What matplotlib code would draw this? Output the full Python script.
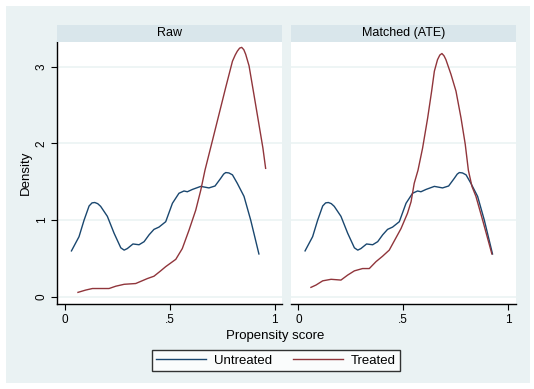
import matplotlib
matplotlib.use("Agg")
import matplotlib.pyplot as plt

plt.rcParams["font.family"] = ["Liberation Sans", "DejaVu Sans"]

# density curves (propensity score, density)
untreated_x = [0.032, 0.068, 0.092, 0.116, 0.130, 0.143, 0.157, 0.171, 0.203, 0.235,
               0.267, 0.283, 0.298, 0.325, 0.354, 0.378, 0.402, 0.425, 0.449, 0.481,
               0.513, 0.544, 0.568, 0.584, 0.608, 0.648, 0.687, 0.716, 0.743, 0.757,
               0.767, 0.782, 0.799, 0.822, 0.854, 0.886, 0.925]
untreated_y = [0.60, 0.785, 1.00, 1.185, 1.225, 1.23, 1.215, 1.18, 1.05, 0.83,
               0.64, 0.61, 0.63, 0.69, 0.68, 0.72, 0.81, 0.88, 0.91, 0.98,
               1.22, 1.35, 1.38, 1.37, 1.40, 1.44, 1.42, 1.445, 1.545, 1.60,
               1.62, 1.615, 1.59, 1.48, 1.31, 1.00, 0.56]

treated_raw_x = [0.063, 0.100, 0.132, 0.211, 0.243, 0.283, 0.338, 0.394, 0.425, 0.457,
                 0.481, 0.529, 0.560, 0.592, 0.624, 0.648, 0.668, 0.703, 0.735, 0.767,
                 0.799, 0.812, 0.822, 0.833, 0.843, 0.853, 0.862, 0.878, 0.901, 0.925,
                 0.944, 0.957]
treated_raw_y = [0.06, 0.09, 0.11, 0.11, 0.14, 0.165, 0.175, 0.24, 0.27, 0.34,
                 0.395, 0.49, 0.63, 0.87, 1.13, 1.39, 1.65, 2.03, 2.38, 2.73,
                 3.07, 3.15, 3.20, 3.24, 3.25, 3.22, 3.16, 3.01, 2.64, 2.25,
                 1.94, 1.675]

treated_ate_x = [0.060, 0.084, 0.116, 0.156, 0.203, 0.235, 0.267, 0.306, 0.338, 0.370,
                 0.401, 0.433, 0.457, 0.489, 0.520, 0.537, 0.552, 0.570, 0.592, 0.616,
                 0.635, 0.648, 0.663, 0.674, 0.684, 0.694, 0.703, 0.727, 0.751, 0.775,
                 0.795, 0.810, 0.827, 0.846, 0.878, 0.922]
treated_ate_y = [0.125, 0.155, 0.21, 0.23, 0.22, 0.285, 0.34, 0.37, 0.37, 0.46,
                 0.53, 0.61, 0.73, 0.89, 1.09, 1.24, 1.48, 1.65, 1.94, 2.33,
                 2.68, 2.94, 3.09, 3.15, 3.17, 3.14, 3.09, 2.90, 2.68, 2.33,
                 1.99, 1.65, 1.44, 1.31, 1.00, 0.56]

panel_titles = ["Raw", "Matched (ATE)"]
x_ticks = [0, 0.5, 1]
x_tick_labels = ["0", ".5", "1"]
y_ticks = [0, 1, 2, 3]
series_labels = ["Untreated", "Treated"]

NAVY = "#1a476f"
MAROON = "#90353b"
BG = "#eaf2f3"
STRIP = "#d9e6eb"

W, H = 534, 389


def px_box(x0, y0, x1, y1):
    # pixel box (top-left origin) -> figure fraction rect
    return [x0 / W, 1 - y1 / H, (x1 - x0) / W, (y1 - y0) / H]


fig = plt.figure(figsize=(W / 100, H / 100), dpi=100)
fig.patch.set_facecolor("white")
fig.patches.append(plt.Rectangle((6 / W, 1 - 383 / H), 524 / W, 377 / H,
                                 transform=fig.transFigure, facecolor=BG,
                                 edgecolor="none", zorder=-10))

panels = [(57.4, 282.0), (291.0, 515.6)]
treated = [(treated_raw_x, treated_raw_y), (treated_ate_x, treated_ate_y)]
lines = []

for i, (x0, x1) in enumerate(panels):
    ax = fig.add_axes(px_box(x0, 42, x1, 303.8))
    ax.set_facecolor("white")
    ax.set_xlim(-0.035, 1.035)
    ax.set_ylim(-0.089, 3.32)
    for yv in y_ticks:
        ax.axhline(yv, color=BG, lw=1.1, zorder=0)
    l1, = ax.plot(untreated_x, untreated_y, color=NAVY, lw=1.0, solid_joinstyle="round")
    l2, = ax.plot(treated[i][0], treated[i][1], color=MAROON, lw=1.0, solid_joinstyle="round")
    lines = [l1, l2]

    for side in ["top", "right"]:
        ax.spines[side].set_visible(False)
    ax.spines["bottom"].set_color("black")
    ax.spines["bottom"].set_linewidth(1.0)
    ax.set_xticks(x_ticks)
    ax.set_xticklabels(x_tick_labels, fontsize=8.5)
    ax.tick_params(axis="x", direction="out", length=4, width=0.8, pad=3)
    if i == 0:
        ax.spines["left"].set_color("black")
        ax.spines["left"].set_linewidth(1.0)
        ax.set_yticks(y_ticks)
        ax.set_yticklabels([str(v) for v in y_ticks], fontsize=8.5, rotation=90, va="center")
        ax.tick_params(axis="y", direction="out", length=4, width=0.8, pad=3)
    else:
        ax.spines["left"].set_visible(False)
        ax.set_yticks([])

    sax = fig.add_axes(px_box(x0, 24.6, x1, 42))
    sax.set_facecolor(STRIP)
    sax.set_xticks([])
    sax.set_yticks([])
    for s in sax.spines.values():
        s.set_visible(False)
    sax.text(0.5, 0.5, panel_titles[i], ha="center", va="center", fontsize=9,
             transform=sax.transAxes)

fig.text(25.6 / W, 1 - 173 / H, "Density", rotation=90, ha="center", va="center", fontsize=9.5)
fig.text(275 / W, 1 - 336 / H, "Propensity score", ha="center", va="center", fontsize=9.5)

leg = fig.legend(lines, series_labels, loc="center", ncol=2,
                 bbox_to_anchor=((149 + 402.7) / 2 / W, 1 - 360.4 / H),
                 fontsize=9.5, frameon=True, fancybox=False, handlelength=3.8,
                 handletextpad=0.55, columnspacing=1.6, borderpad=0.35)
leg.get_frame().set_edgecolor("black")
leg.get_frame().set_linewidth(1.0)
leg.get_frame().set_facecolor("white")

fig.savefig("out.png", dpi=100, facecolor=fig.get_facecolor())
